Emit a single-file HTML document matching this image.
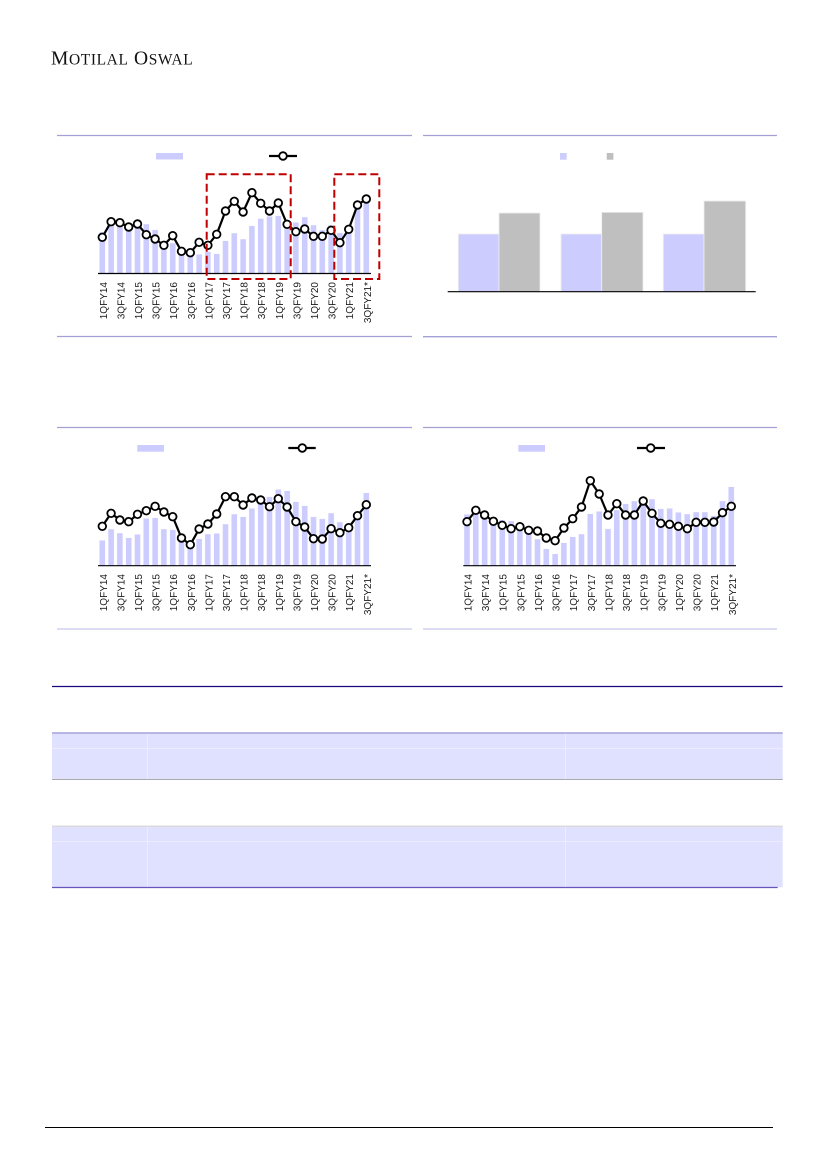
<!DOCTYPE html>
<html>
<head>
<meta charset="utf-8">
<style>
  html,body{margin:0;padding:0;background:#fff;}
  body{width:827px;height:1169px;overflow:hidden;position:relative;}
  svg{position:absolute;left:0;top:0;}
</style>
</head>
<body>
<svg width="827" height="1169" viewBox="0 0 827 1169" xmlns="http://www.w3.org/2000/svg">
  <defs>
    <marker id="m" markerWidth="12" markerHeight="12" refX="6" refY="6" markerUnits="userSpaceOnUse">
      <circle cx="6" cy="6" r="3.8" fill="#fff" stroke="#000" stroke-width="1.8"/>
    </marker>
  </defs>

  <!-- Header -->
  <text x="51" y="64.5" font-family="'Liberation Serif', serif" fill="#111" letter-spacing="0.6"><tspan font-size="19.5">M</tspan><tspan font-size="15.5">OTILAL</tspan><tspan font-size="19.5"> O</tspan><tspan font-size="15.5">SWAL</tspan></text>

  <!-- ===== Chart 1 (top-left) ===== -->
  <line x1="57" y1="135.5" x2="412" y2="135.5" stroke="#a3a0d6" stroke-width="1.3"/>
  <line x1="57" y1="336.5" x2="412" y2="336.5" stroke="#a3a0d6" stroke-width="1.3"/>
  <rect x="156" y="153" width="27" height="6.5" fill="#ccccff"/>
  <line x1="269" y1="156" x2="297" y2="156" stroke="#000" stroke-width="2.2"/>
  <circle cx="283" cy="156" r="3.8" fill="#fff" stroke="#000" stroke-width="1.8"/>
  <g fill="#ccccff" stroke="#fff" stroke-width="0.4">
    <rect x="99.3" y="232" width="6" height="41.3"/>
    <rect x="108.1" y="219.3" width="6" height="54"/>
    <rect x="116.9" y="218.3" width="6" height="55"/>
    <rect x="125.7" y="226.7" width="6" height="46.6"/>
    <rect x="134.5" y="225" width="6" height="48.3"/>
    <rect x="143.3" y="224" width="6" height="49.3"/>
    <rect x="152.1" y="229.7" width="6" height="43.6"/>
    <rect x="160.9" y="242" width="6" height="31.3"/>
    <rect x="169.7" y="243" width="6" height="30.3"/>
    <rect x="178.5" y="251.7" width="6" height="21.6"/>
    <rect x="187.3" y="254.3" width="6" height="19"/>
    <rect x="196.1" y="254.3" width="6" height="19"/>
    <rect x="204.9" y="251.7" width="6" height="21.6"/>
    <rect x="213.7" y="253.7" width="6" height="19.6"/>
    <rect x="222.5" y="240.7" width="6" height="32.6"/>
    <rect x="231.3" y="233" width="6" height="40.3"/>
    <rect x="240.1" y="239" width="6" height="34.3"/>
    <rect x="248.9" y="225.7" width="6" height="47.6"/>
    <rect x="257.7" y="218.5" width="6" height="54.8"/>
    <rect x="266.5" y="216.3" width="6" height="57"/>
    <rect x="275.3" y="215.7" width="6" height="57.6"/>
    <rect x="284.1" y="221" width="6" height="52.3"/>
    <rect x="292.9" y="222.3" width="6" height="51"/>
    <rect x="301.7" y="217" width="6" height="56.3"/>
    <rect x="310.5" y="225" width="6" height="48.3"/>
    <rect x="319.3" y="230" width="6" height="43.3"/>
    <rect x="328.1" y="225" width="6" height="48.3"/>
    <rect x="336.9" y="232.7" width="6" height="40.6"/>
    <rect x="345.7" y="228.3" width="6" height="45"/>
    <rect x="354.5" y="203.3" width="6" height="70"/>
    <rect x="363.3" y="198.3" width="6" height="75"/>
  </g>
  <line x1="98" y1="273.5" x2="371" y2="273.5" stroke="#000" stroke-width="1.2"/>
  <polyline fill="none" stroke="#000" stroke-width="2.2" stroke-linejoin="round" marker-start="url(#m)" marker-mid="url(#m)" marker-end="url(#m)"
    points="102.3,237.3 111.1,221.7 119.9,222.7 128.7,227 137.5,224 146.3,234.7 155.1,239 163.9,245.3 172.7,235.7 181.5,251.3 190.3,252.7 199.1,242.3 207.9,245.3 216.7,234.3 225.5,211 234.3,201.3 243.1,212 251.9,192.7 260.7,203.3 269.5,211 278.3,203 287.1,224.3 295.9,231.7 304.7,229 313.5,236.3 322.3,236.3 331.1,230.3 339.9,242.7 348.7,229.3 357.5,205 366.3,199"/>
  <rect x="206.7" y="174.3" width="84" height="104.7" fill="none" stroke="#c00000" stroke-width="2" stroke-dasharray="8,4"/>
  <rect x="334.3" y="174.3" width="45" height="104.7" fill="none" stroke="#c00000" stroke-width="2" stroke-dasharray="8,4"/>
  <g font-family="'Liberation Sans', sans-serif" font-size="10" fill="#1a1a1a" text-anchor="end">
    <text transform="translate(106.8,282) rotate(-90)">1QFY14</text>
    <text transform="translate(124.4,282) rotate(-90)">3QFY14</text>
    <text transform="translate(142,282) rotate(-90)">1QFY15</text>
    <text transform="translate(159.6,282) rotate(-90)">3QFY15</text>
    <text transform="translate(177.2,282) rotate(-90)">1QFY16</text>
    <text transform="translate(194.8,282) rotate(-90)">3QFY16</text>
    <text transform="translate(212.4,282) rotate(-90)">1QFY17</text>
    <text transform="translate(230,282) rotate(-90)">3QFY17</text>
    <text transform="translate(247.6,282) rotate(-90)">1QFY18</text>
    <text transform="translate(265.2,282) rotate(-90)">3QFY18</text>
    <text transform="translate(282.8,282) rotate(-90)">1QFY19</text>
    <text transform="translate(300.4,282) rotate(-90)">3QFY19</text>
    <text transform="translate(318,282) rotate(-90)">1QFY20</text>
    <text transform="translate(335.6,282) rotate(-90)">3QFY20</text>
    <text transform="translate(353.2,282) rotate(-90)">1QFY21</text>
    <text transform="translate(370.8,282) rotate(-90)">3QFY21*</text>
  </g>

  <!-- ===== Chart 2 (top-right) ===== -->
  <line x1="423" y1="135.5" x2="777" y2="135.5" stroke="#a3a0d6" stroke-width="1.3"/>
  <line x1="423" y1="336.7" x2="777" y2="336.7" stroke="#a3a0d6" stroke-width="1.3"/>
  <rect x="560" y="153" width="6.7" height="6.7" fill="#ccccff"/>
  <rect x="606.7" y="153" width="6.7" height="6.7" fill="#bfbfbf"/>
  <g stroke="#eeeeee" stroke-width="0.8">
    <rect x="458.3" y="234" width="40.7" height="57.7" fill="#ccccff"/>
    <rect x="499" y="213" width="41" height="78.7" fill="#bfbfbf"/>
    <rect x="561" y="234" width="40.7" height="57.7" fill="#ccccff"/>
    <rect x="601.7" y="212.3" width="41.3" height="79.4" fill="#bfbfbf"/>
    <rect x="663.3" y="234" width="40.7" height="57.7" fill="#ccccff"/>
    <rect x="704" y="201" width="41.7" height="90.7" fill="#bfbfbf"/>
  </g>
  <line x1="447.7" y1="291.7" x2="755.7" y2="291.7" stroke="#000" stroke-width="1.2"/>

  <!-- ===== Chart 3 (bottom-left) ===== -->
  <line x1="57" y1="427.5" x2="412" y2="427.5" stroke="#a3a0d6" stroke-width="1.3"/>
  <line x1="57" y1="629" x2="412" y2="629" stroke="#c8c8ec" stroke-width="1.3"/>
  <rect x="137.3" y="445" width="26.7" height="6.7" fill="#ccccff"/>
  <line x1="288.3" y1="448" x2="315.7" y2="448" stroke="#000" stroke-width="2.2"/>
  <circle cx="302.3" cy="448" r="3.8" fill="#fff" stroke="#000" stroke-width="1.8"/>
  <g fill="#ccccff" stroke="#fff" stroke-width="0.4">
    <rect x="99.3" y="540.3" width="6" height="25.4"/>
    <rect x="108.1" y="529" width="6" height="36.7"/>
    <rect x="116.9" y="533" width="6" height="32.7"/>
    <rect x="125.7" y="537.7" width="6" height="28"/>
    <rect x="134.5" y="534.3" width="6" height="31.4"/>
    <rect x="143.3" y="518.3" width="6" height="47.4"/>
    <rect x="152.1" y="517.7" width="6" height="48"/>
    <rect x="160.9" y="529" width="6" height="36.7"/>
    <rect x="169.7" y="529.7" width="6" height="36"/>
    <rect x="178.5" y="541.7" width="6" height="24"/>
    <rect x="187.3" y="546" width="6" height="19.7"/>
    <rect x="196.1" y="538.7" width="6" height="27"/>
    <rect x="204.9" y="534" width="6" height="31.7"/>
    <rect x="213.7" y="533.3" width="6" height="32.4"/>
    <rect x="222.5" y="524" width="6" height="41.7"/>
    <rect x="231.3" y="514" width="6" height="51.7"/>
    <rect x="240.1" y="516.7" width="6" height="49"/>
    <rect x="248.9" y="508.3" width="6" height="57.4"/>
    <rect x="257.7" y="502.7" width="6" height="63"/>
    <rect x="266.5" y="496.7" width="6" height="69"/>
    <rect x="275.3" y="489.3" width="6" height="76.4"/>
    <rect x="284.1" y="490.7" width="6" height="75"/>
    <rect x="292.9" y="501.7" width="6" height="64"/>
    <rect x="301.7" y="505.7" width="6" height="60"/>
    <rect x="310.5" y="516.7" width="6" height="49"/>
    <rect x="319.3" y="518.7" width="6" height="47"/>
    <rect x="328.1" y="513" width="6" height="52.7"/>
    <rect x="336.9" y="522" width="6" height="43.7"/>
    <rect x="345.7" y="526" width="6" height="39.7"/>
    <rect x="354.5" y="516" width="6" height="49.7"/>
    <rect x="363.3" y="492.7" width="6" height="73"/>
  </g>
  <line x1="98" y1="565.7" x2="371" y2="565.7" stroke="#000" stroke-width="1.2"/>
  <polyline fill="none" stroke="#000" stroke-width="2.2" stroke-linejoin="round" marker-start="url(#m)" marker-mid="url(#m)" marker-end="url(#m)"
    points="102.3,526.3 111.1,513.3 119.9,520 128.7,521.7 137.5,514.3 146.3,510.7 155.1,506.3 163.9,512 172.7,516.7 181.5,538 190.3,544.7 199.1,529 207.9,524 216.7,514 225.5,496.7 234.3,496.7 243.1,505 251.9,498 260.7,500 269.5,506.7 278.3,498.7 287.1,507 295.9,521.7 304.7,527 313.5,538.7 322.3,539 331.1,528.7 339.9,532.7 348.7,527.7 357.5,515.7 366.3,504.7"/>
  <g font-family="'Liberation Sans', sans-serif" font-size="10" fill="#1a1a1a" text-anchor="end">
    <text transform="translate(106.8,574) rotate(-90)">1QFY14</text>
    <text transform="translate(124.4,574) rotate(-90)">3QFY14</text>
    <text transform="translate(142,574) rotate(-90)">1QFY15</text>
    <text transform="translate(159.6,574) rotate(-90)">3QFY15</text>
    <text transform="translate(177.2,574) rotate(-90)">1QFY16</text>
    <text transform="translate(194.8,574) rotate(-90)">3QFY16</text>
    <text transform="translate(212.4,574) rotate(-90)">1QFY17</text>
    <text transform="translate(230,574) rotate(-90)">3QFY17</text>
    <text transform="translate(247.6,574) rotate(-90)">1QFY18</text>
    <text transform="translate(265.2,574) rotate(-90)">3QFY18</text>
    <text transform="translate(282.8,574) rotate(-90)">1QFY19</text>
    <text transform="translate(300.4,574) rotate(-90)">3QFY19</text>
    <text transform="translate(318,574) rotate(-90)">1QFY20</text>
    <text transform="translate(335.6,574) rotate(-90)">3QFY20</text>
    <text transform="translate(353.2,574) rotate(-90)">1QFY21</text>
    <text transform="translate(370.8,574) rotate(-90)">3QFY21*</text>
  </g>

  <!-- ===== Chart 4 (bottom-right) ===== -->
  <line x1="423" y1="427.5" x2="777" y2="427.5" stroke="#a3a0d6" stroke-width="1.3"/>
  <line x1="423" y1="629" x2="777" y2="629" stroke="#c8c8ec" stroke-width="1.3"/>
  <rect x="518.3" y="445" width="26.7" height="6.7" fill="#ccccff"/>
  <line x1="637" y1="448" x2="665" y2="448" stroke="#000" stroke-width="2.2"/>
  <circle cx="650.7" cy="448" r="3.8" fill="#fff" stroke="#000" stroke-width="1.8"/>
  <g fill="#ccccff" stroke="#fff" stroke-width="0.4">
    <rect x="464" y="514.3" width="6" height="51.4"/>
    <rect x="472.8" y="510.7" width="6" height="55"/>
    <rect x="481.6" y="515" width="6" height="50.7"/>
    <rect x="490.4" y="516.7" width="6" height="49"/>
    <rect x="499.2" y="520" width="6" height="45.7"/>
    <rect x="508.1" y="521" width="6" height="44.7"/>
    <rect x="516.9" y="525" width="6" height="40.7"/>
    <rect x="525.7" y="526.7" width="6" height="39"/>
    <rect x="534.5" y="539" width="6" height="26.7"/>
    <rect x="543.3" y="548.7" width="6" height="17"/>
    <rect x="552.1" y="553.7" width="6" height="12"/>
    <rect x="560.9" y="542.7" width="6" height="23"/>
    <rect x="569.7" y="536.7" width="6" height="29"/>
    <rect x="578.5" y="534" width="6" height="31.7"/>
    <rect x="587.3" y="513.7" width="6" height="52"/>
    <rect x="596.2" y="511.3" width="6" height="54.4"/>
    <rect x="605" y="528.7" width="6" height="37"/>
    <rect x="613.8" y="510" width="6" height="55.7"/>
    <rect x="622.6" y="503.7" width="6" height="62"/>
    <rect x="631.4" y="501" width="6" height="64.7"/>
    <rect x="640.2" y="500.3" width="6" height="65.4"/>
    <rect x="649" y="499" width="6" height="66.7"/>
    <rect x="657.8" y="508.7" width="6" height="57"/>
    <rect x="666.6" y="508.3" width="6" height="57.4"/>
    <rect x="675.4" y="512.3" width="6" height="53.4"/>
    <rect x="684.3" y="514" width="6" height="51.7"/>
    <rect x="693.1" y="512" width="6" height="53.7"/>
    <rect x="701.9" y="512" width="6" height="53.7"/>
    <rect x="710.7" y="515.7" width="6" height="50"/>
    <rect x="719.5" y="501" width="6" height="64.7"/>
    <rect x="728.3" y="486.7" width="6" height="79"/>
  </g>
  <line x1="463.3" y1="565.7" x2="736" y2="565.7" stroke="#000" stroke-width="1.2"/>
  <polyline fill="none" stroke="#000" stroke-width="2.2" stroke-linejoin="round" marker-start="url(#m)" marker-mid="url(#m)" marker-end="url(#m)"
    points="467,521.7 475.8,510.3 484.6,515 493.4,521.3 502.2,525.3 511.1,528.7 519.9,526.7 528.7,530.3 537.5,531 546.3,538 555.1,540.7 563.9,528 572.7,518.7 581.5,507 590.3,480.7 599.2,494 608,515 616.8,503.7 625.6,515 634.4,515 643.2,501 652,513.3 660.8,523.3 669.6,524.3 678.4,526.3 687.3,528.7 696.1,522.3 704.9,522.3 713.7,522 722.5,512.7 731.3,506.3"/>
  <g font-family="'Liberation Sans', sans-serif" font-size="10" fill="#1a1a1a" text-anchor="end">
    <text transform="translate(471.5,574) rotate(-90)">1QFY14</text>
    <text transform="translate(489.1,574) rotate(-90)">3QFY14</text>
    <text transform="translate(506.7,574) rotate(-90)">1QFY15</text>
    <text transform="translate(524.4,574) rotate(-90)">3QFY15</text>
    <text transform="translate(542,574) rotate(-90)">1QFY16</text>
    <text transform="translate(559.6,574) rotate(-90)">3QFY16</text>
    <text transform="translate(577.2,574) rotate(-90)">1QFY17</text>
    <text transform="translate(594.8,574) rotate(-90)">3QFY17</text>
    <text transform="translate(612.5,574) rotate(-90)">1QFY18</text>
    <text transform="translate(630.1,574) rotate(-90)">3QFY18</text>
    <text transform="translate(647.7,574) rotate(-90)">1QFY19</text>
    <text transform="translate(665.3,574) rotate(-90)">3QFY19</text>
    <text transform="translate(682.9,574) rotate(-90)">1QFY20</text>
    <text transform="translate(700.6,574) rotate(-90)">3QFY20</text>
    <text transform="translate(718.2,574) rotate(-90)">1QFY21</text>
    <text transform="translate(735.8,574) rotate(-90)">3QFY21*</text>
  </g>

  <!-- ===== Table ===== -->
  <line x1="52" y1="686.5" x2="782.7" y2="686.5" stroke="#1a0a80" stroke-width="1.3"/>
  <!-- band 1 -->
  <rect x="52" y="732.3" width="730.7" height="47" fill="#e0e0ff"/>
  <line x1="52" y1="748.5" x2="782.7" y2="748.5" stroke="#ececff" stroke-width="1"/>
  <line x1="147.5" y1="732.3" x2="147.5" y2="779.3" stroke="#ececff" stroke-width="1"/>
  <line x1="565.5" y1="732.3" x2="565.5" y2="779.3" stroke="#ececff" stroke-width="1"/>
  <line x1="52" y1="733" x2="782.7" y2="733" stroke="#a8a4d8" stroke-width="1.6"/>
  <line x1="52" y1="779.5" x2="782.7" y2="779.5" stroke="#aaaaaa" stroke-width="1"/>
  <!-- band 2 -->
  <rect x="52" y="825.7" width="730.7" height="61.6" fill="#e0e0ff"/>
  <line x1="52" y1="841.5" x2="782.7" y2="841.5" stroke="#ececff" stroke-width="1"/>
  <line x1="147.5" y1="825.7" x2="147.5" y2="887.3" stroke="#ececff" stroke-width="1"/>
  <line x1="565.5" y1="825.7" x2="565.5" y2="887.3" stroke="#ececff" stroke-width="1"/>
  <line x1="52" y1="826.3" x2="782.7" y2="826.3" stroke="#dadada" stroke-width="1.4"/>
  <line x1="52" y1="887.5" x2="777.7" y2="887.5" stroke="#6655bb" stroke-width="1.2"/>

  <!-- Footer -->
  <line x1="45" y1="1127.5" x2="773" y2="1127.5" stroke="#000" stroke-width="1"/>
</svg>
</body>
</html>
